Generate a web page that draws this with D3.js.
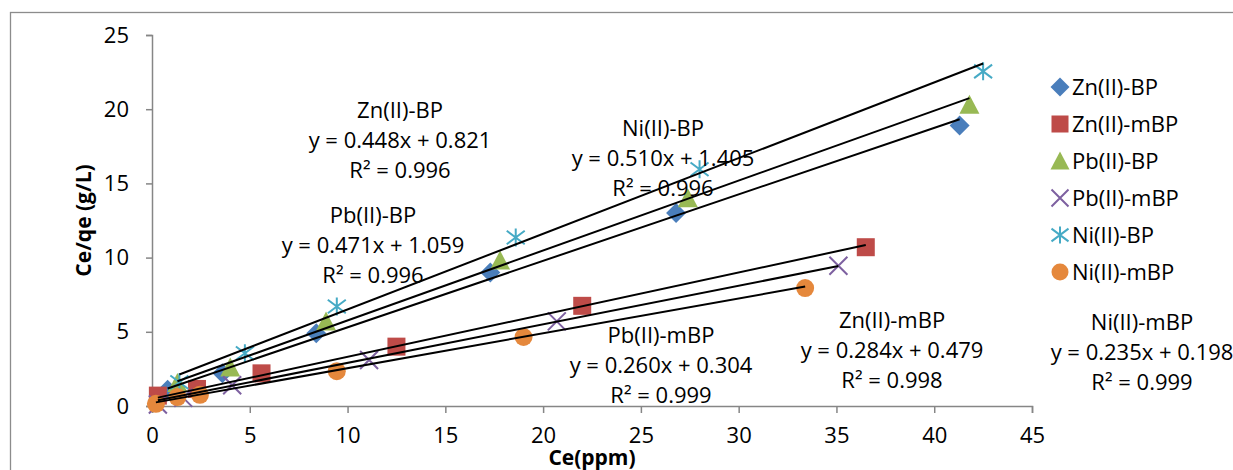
<!DOCTYPE html>
<html>
<head>
<meta charset="utf-8">
<script src="https://cdn.jsdelivr.net/npm/d3@7"></script>
<style>
  html, body { margin: 0; padding: 0; background: #fff; }
  svg { display: block; font-family: "Open Sans", sans-serif; }
</style>
</head>
<body>
<div id="chart"></div>
<script>
// series data (Ce in ppm, Ce/qe in g/L)
const seriesNames = ["Zn(II)-BP", "Zn(II)-mBP", "Pb(II)-BP", "Pb(II)-mBP", "Ni(II)-BP", "Ni(II)-mBP"];

const znBP_x = [0.8, 3.6, 8.4, 17.3, 26.8, 41.3];
const znBP_y = [1.1, 2.2, 4.9, 9.0, 13.0, 18.9];

const znMBP_x = [0.3, 2.3, 5.6, 12.5, 22.0, 36.5];
const znMBP_y = [0.7, 1.15, 2.2, 4.0, 6.75, 10.7];

const pbBP_x = [1.3, 4.0, 8.9, 17.8, 27.4, 41.8];
const pbBP_y = [1.55, 2.6, 5.7, 9.8, 14.0, 20.3];

const pbMBP_x = [0.3, 1.6, 4.1, 11.1, 20.7, 35.1];
const pbMBP_y = [0.1, 0.55, 1.4, 3.1, 5.7, 9.45];

const niBP_x = [1.4, 4.75, 9.45, 18.6, 28.0, 42.5];
const niBP_y = [1.6, 3.55, 6.7, 11.35, 15.95, 22.55];

const niMBP_x = [0.2, 1.3, 2.45, 9.45, 19.0, 33.4];
const niMBP_y = [0.15, 0.6, 0.75, 2.35, 4.65, 7.95];

// linear fits shown on the chart
const slopes = [0.448, 0.284, 0.471, 0.260, 0.510, 0.235];
const intercepts = [0.821, 0.479, 1.059, 0.304, 1.405, 0.198];
const rSquared = [0.996, 0.998, 0.996, 0.999, 0.996, 0.999];

const xTicks = [0, 5, 10, 15, 20, 25, 30, 35, 40, 45];
const yTicks = [0, 5, 10, 15, 20, 25];

const allX = [znBP_x, znMBP_x, pbBP_x, pbMBP_x, niBP_x, niMBP_x];
const allY = [znBP_y, znMBP_y, pbBP_y, pbMBP_y, niBP_y, niMBP_y];

const series = seriesNames.map((name, i) => ({
    name,
    points: allX[i].map((x, j) => ({ x, y: allY[i][j] })),
    slope: slopes[i],
    intercept: intercepts[i],
    r2: rSquared[i]
}));

const colors = ["#4a7ebb", "#be4b48", "#98b954", "#7d60a0", "#46aac5", "#e5883c"];
const shapes = ["diamond", "square", "triangle", "x", "star", "circle"];

// label placement (centre x, first line centre y)
const labelPos = [[400, 110], [892, 320], [373, 215], [661, 335], [663, 128], [1142, 322]];

const W = 1233, H = 470;
const svg = d3.select("#chart").append("svg")
    .attr("width", W)
    .attr("height", H);

svg.append("rect")
    .attr("x", 10.5).attr("y", 12.5)
    .attr("width", 1300).attr("height", 600)
    .attr("fill", "#fff")
    .attr("stroke", "#8c8c8c")
    .attr("stroke-width", 1.3);

const x = d3.scaleLinear().domain([0, 45]).range([152, 1032]);
const y = d3.scaleLinear().domain([0, 25]).range([406, 35]);

const axisColor = "#868686";

const yAxis = svg.append("g")
    .attr("transform", `translate(${x(0)},0)`)
    .call(d3.axisLeft(y).tickValues(yTicks).tickSize(6).tickPadding(17));
const xAxis = svg.append("g")
    .attr("transform", `translate(0,${y(0)})`)
    .call(d3.axisBottom(x).tickValues(xTicks).tickSize(7).tickPadding(14));

[xAxis, yAxis].forEach(g => {
    g.select(".domain").attr("stroke", axisColor).attr("stroke-width", 1.5);
    g.selectAll(".tick line").attr("stroke", axisColor).attr("stroke-width", 1.5);
    g.selectAll(".tick text")
        .attr("fill", "#000")
        .style("font-size", "22px")
        .style("font-family", "'Open Sans', sans-serif");
});

svg.append("text")
    .attr("transform", `translate(91,${(y(0) + y(25)) / 2}) rotate(-90)`)
    .attr("text-anchor", "middle")
    .style("font-size", "21px")
    .style("font-weight", "bold")
    .text("Ce/qe (g/L)");

svg.append("text")
    .attr("x", (x(0) + x(45)) / 2)
    .attr("y", 465)
    .attr("text-anchor", "middle")
    .style("font-size", "21px")
    .style("font-weight", "bold")
    .text("Ce(ppm)");

function drawMarker(g, shape, color, s) {
    const r = s / 2;
    if (shape === "diamond") {
        g.append("path").attr("d", `M0,${-r - 1}L${r + 1},0L0,${r + 1}L${-r - 1},0Z`).attr("fill", color);
    } else if (shape === "square") {
        g.append("rect").attr("x", -r).attr("y", -r).attr("width", s).attr("height", s).attr("fill", color);
    } else if (shape === "triangle") {
        g.append("path").attr("d", `M0,${-r - 1}L${r + 1},${r}L${-r - 1},${r}Z`).attr("fill", color);
    } else if (shape === "x") {
        g.append("path").attr("d", `M${-r},${-r}L${r},${r}M${r},${-r}L${-r},${r}`)
            .attr("stroke", color).attr("stroke-width", 2).attr("fill", "none");
    } else if (shape === "star") {
        g.append("path").attr("d", `M${-r},${-r * 0.75}L${r},${r * 0.75}M${r},${-r * 0.75}L${-r},${r * 0.75}M0,${-r}L0,${r}`)
            .attr("stroke", color).attr("stroke-width", 2).attr("fill", "none");
    } else {
        g.append("circle").attr("r", r).attr("fill", color);
    }
}

// markers
series.forEach((s, i) => {
    const g = svg.append("g").attr("class", "series");
    g.selectAll("g.pt")
        .data(s.points)
        .enter()
        .append("g")
        .attr("class", "pt")
        .attr("transform", d => `translate(${x(d.x)},${y(d.y)})`)
        .each(function () { drawMarker(d3.select(this), shapes[i], colors[i], 18); });
});

// trendlines over the min..max range of each series
const line = d3.line().x(d => x(d[0])).y(d => y(d[1]));
series.forEach(s => {
    const [x0, x1] = d3.extent(s.points, d => d.x);
    svg.append("path")
        .attr("d", line([[x0, s.slope * x0 + s.intercept], [x1, s.slope * x1 + s.intercept]]))
        .attr("stroke", "#000")
        .attr("stroke-width", 2)
        .attr("fill", "none");
});

// fit labels
series.forEach((s, i) => {
    const [cx, cy] = labelPos[i];
    const t = svg.append("text")
        .attr("text-anchor", "middle")
        .style("font-size", "22px");
    const lines = [
        s.name,
        `y = ${d3.format(".3f")(s.slope)}x + ${d3.format(".3f")(s.intercept)}`,
        `R² = ${d3.format(".3f")(s.r2)}`
    ];
    lines.forEach((txt, k) => {
        t.append("tspan").attr("x", cx).attr("y", cy + 8 + k * 30).text(txt);
    });
});

// legend
const legend = svg.append("g").attr("transform", "translate(1060,87)");
series.forEach((s, i) => {
    const row = legend.append("g").attr("transform", `translate(0,${i * 37})`);
    drawMarker(row.append("g"), shapes[i], colors[i], 17);
    row.append("text")
        .attr("x", 12)
        .attr("y", 8)
        .style("font-size", "22px")
        .text(s.name);
});
</script>
</body>
</html>
